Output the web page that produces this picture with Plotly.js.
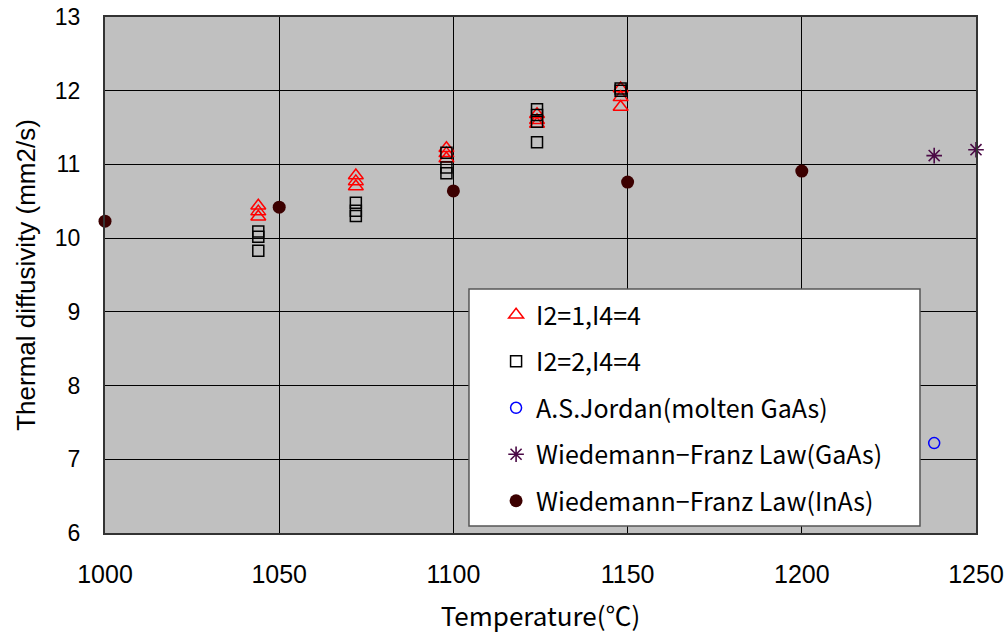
<!DOCTYPE html>
<html><head><meta charset="utf-8">
<script src="https://cdn.plot.ly/plotly-3.0.1.min.js"></script>
<style>html,body{margin:0;padding:0;background:#fff}#chart{width:1007px;height:633px}</style>
</head><body><div id="chart"></div>
<script>
// Series: I2=1,I4=4 (triangles)
const tri_T = [1044,1044,1044,1072,1072,1072,1098,1098,1098,1124,1124,1124,1148,1148,1148];
const tri_D = [10.44,10.36,10.29,10.85,10.77,10.70,11.22,11.15,11.08,11.68,11.60,11.55,12.03,11.91,11.78];
// Series: I2=2,I4=4 (squares)
const sq_T = [1044,1044,1044,1072,1072,1072,1098,1098,1098,1124,1124,1124,1124,1148,1148];
const sq_D = [10.09,10.02,9.83,10.48,10.37,10.30,11.16,10.96,10.88,11.75,11.67,11.58,11.30,12.03,12.00];
// A.S.Jordan (molten GaAs)
const jor_T = [1238];
const jor_D = [7.22];
// Wiedemann-Franz Law (GaAs)
const wfg_T = [1238,1250];
const wfg_D = [11.12,11.20];
// Wiedemann-Franz Law (InAs)
const wfi_T = [1000,1050,1100,1150,1200];
const wfi_D = [10.23,10.42,10.64,10.76,10.91];

const names = ['I2=1,I4=4','I2=2,I4=4','A.S.Jordan(molten GaAs)','Wiedemann\u2212Franz Law(GaAs)','Wiedemann\u2212Franz Law(InAs)'];
const xTicks = [1000,1050,1100,1150,1200,1250];
const yTicks = [6,7,8,9,10,11,12,13];

const traces = [
  {x:tri_T,y:tri_D,name:names[0],legendgroup:'a',mode:'markers',type:'scatter',cliponaxis:false,
   marker:{symbol:'triangle-up-open',size:13,color:'#FF0000',line:{width:1.5,color:'#FF0000'}}},
  {x:sq_T,y:sq_D,name:names[1],legendgroup:'b',mode:'markers',type:'scatter',cliponaxis:false,
   marker:{symbol:'square-open',size:11,color:'#000000',line:{width:1.5,color:'#000000'}}},
  {x:jor_T,y:jor_D,name:names[2],legendgroup:'c',mode:'markers',type:'scatter',cliponaxis:false,
   marker:{symbol:'circle-open',size:11,color:'#0000FF',line:{width:1.5,color:'#0000FF'}}},
  {x:wfg_T,y:wfg_D,name:names[3],legendgroup:'d',mode:'markers',type:'scatter',cliponaxis:false,
   marker:{symbol:'asterisk-open',size:13,color:'#4B0A46',line:{width:1.6,color:'#4B0A46'}}},
  {x:wfi_T,y:wfi_D,name:names[4],legendgroup:'e',mode:'markers',type:'scatter',cliponaxis:false,
   marker:{symbol:'circle',size:13,color:'#3C0000',line:{width:0}}}
];

const layout = {
  width:1007,height:633,
  margin:{l:105,r:31,t:17,b:100},
  paper_bgcolor:'#FFFFFF',plot_bgcolor:'#C0C0C0',
  showlegend:true,
  shapes:[{type:'rect',xref:'paper',yref:'paper',x0:0.4179,x1:0.9357,y0:0.0136,y1:0.4729,
    fillcolor:'#FFFFFF',line:{color:'#555555',width:1.5},layer:'above'}],
  legend:{x:0.449,y:0.467,xanchor:'left',yanchor:'top',bgcolor:'rgba(0,0,0,0)',
    borderwidth:0,traceorder:'grouped',tracegroupgap:11,
    font:{family:'"Noto Sans CJK JP", "Noto Sans", sans-serif',size:25,color:'#000'},
    itemsizing:'trace'},
  xaxis:{range:[1000,1250],tickvals:xTicks,ticktext:xTicks.map(String),
    showgrid:true,gridcolor:'#000000',gridwidth:1.2,zeroline:false,
    showline:true,linecolor:'#333333',linewidth:2,mirror:true,ticks:'',
    tickfont:{family:'"Liberation Sans", Arial, sans-serif',size:25,color:'#000'},
    ticklabelstandoff:18,
    title:{text:'Temperature(\u2103)',standoff:34,
      font:{family:'"Noto Sans CJK JP", sans-serif',size:26,color:'#000'}}},
  yaxis:{range:[6,13],tickvals:yTicks,ticktext:yTicks.map(String),
    showgrid:true,gridcolor:'#000000',gridwidth:1.2,zeroline:false,
    showline:true,linecolor:'#333333',linewidth:2,mirror:true,ticks:'',
    tickfont:{family:'"Liberation Sans", Arial, sans-serif',size:23,color:'#000'},
    ticklabelstandoff:18,
    title:{text:'Thermal diffusivity (mm2/s)',standoff:12,
      font:{family:'"Liberation Sans", Arial, sans-serif',size:26,color:'#000'}}}
};
Plotly.newPlot('chart',traces,layout,{displayModeBar:false,staticPlot:true});
</script></body></html>
